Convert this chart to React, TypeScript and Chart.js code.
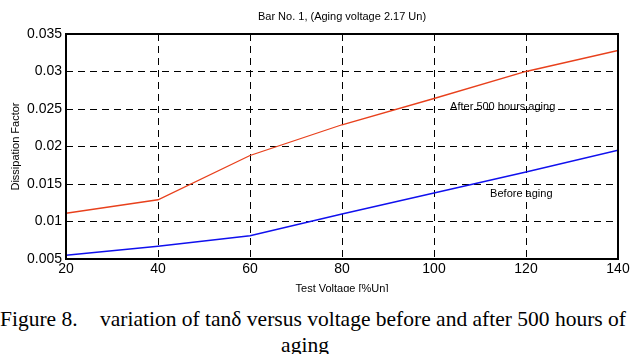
import React, { useEffect, useRef } from "react";
import { Chart, registerables } from "chart.js";

Chart.register(...registerables);

const voltages = [20, 40, 60, 80, 100, 120, 140];
const afterAging = [0.0111, 0.0129, 0.0188, 0.0229, 0.0264, 0.0300, 0.0328];
const beforeAging = [0.0055, 0.0067, 0.0081, 0.0110, 0.0138, 0.0166, 0.0195];
const yTicks = [0.005, 0.01, 0.015, 0.02, 0.025, 0.03, 0.035];
const titleText = "Bar No. 1, (Aging voltage 2.17 Un)";
const xTitle = "Test Voltage [%Un]";
const yTitle = "Dissipation Factor";
const annotations = [
  { text: "After 500 hours aging", x: 103.5, y: 0.0253 },
  { text: "Before aging", x: 112.2, y: 0.01367 },
];

const SANS = "'Liberation Sans', Arial, Helvetica, sans-serif";

const framePlugin = {
  id: "frame",
  afterDraw(chart: any) {
    const { ctx, chartArea: a, scales } = chart;
    ctx.save();
    ctx.strokeStyle = "#000";
    ctx.lineWidth = 2;
    ctx.setLineDash([]);
    ctx.strokeRect(a.left, a.top, a.right - a.left, a.bottom - a.top);
    // title
    ctx.fillStyle = "#000";
    ctx.font = `11px ${SANS}`;
    ctx.textAlign = "center";
    ctx.textBaseline = "middle";
    ctx.fillText(titleText, (a.left + a.right) / 2, 17);
    // y title
    ctx.save();
    ctx.translate(16, (a.top + a.bottom) / 2);
    ctx.rotate(-Math.PI / 2);
    ctx.fillText(yTitle, 0, 0);
    ctx.restore();
    // x title
    ctx.textBaseline = "alphabetic";
    ctx.fillText(xTitle, (a.left + a.right) / 2, 291.5);
    // annotations
    ctx.textAlign = "left";
    ctx.textBaseline = "middle";
    for (const an of annotations) {
      ctx.fillText(an.text, scales.x.getPixelForValue(an.x), scales.y.getPixelForValue(an.y));
    }
    ctx.restore();
  },
};

export default function App() {
  const ref = useRef<HTMLCanvasElement | null>(null);
  useEffect(() => {
    if (!ref.current) return;
    const chart = new Chart(ref.current, {
      type: "line",
      data: {
        datasets: [
          {
            label: "After 500 hours aging",
            data: voltages.map((v, i) => ({ x: v, y: afterAging[i] })),
            borderColor: "#e8401c",
            borderWidth: 1.3,
            pointRadius: 0,
            tension: 0,
          },
          {
            label: "Before aging",
            data: voltages.map((v, i) => ({ x: v, y: beforeAging[i] })),
            borderColor: "#1010ee",
            borderWidth: 1.3,
            pointRadius: 0,
            tension: 0,
          },
        ],
      },
      options: {
        animation: false,
        responsive: false,
        devicePixelRatio: 1,
        layout: { padding: { left: 0, right: 14, top: 34, bottom: 0 } },
        plugins: { legend: { display: false }, tooltip: { enabled: false }, title: { display: false } },
        scales: {
          x: {
            type: "linear",
            min: 20,
            max: 140,
            afterFit(s: any) { s.height = 292 - 259; },
            ticks: { stepSize: 20, color: "#000", font: { family: SANS, size: 14 }, padding: 2, maxRotation: 0 },
            grid: { color: "#000", lineWidth: 1, drawTicks: false },
            border: { display: false, dash: [7, 5] },
          },
          y: {
            type: "linear",
            min: 0.005,
            max: 0.035,
            afterFit(s: any) { s.width = 66; },
            afterBuildTicks(s: any) { s.ticks = yTicks.map((v) => ({ value: v })); },
            ticks: {
              color: "#000",
              font: { family: SANS, size: 14 },
              padding: 4,
              callback: (v: any) => String(+Number(v).toFixed(3)),
            },
            grid: { color: "#000", lineWidth: 1, drawTicks: false },
            border: { display: false, dash: [7, 5] },
          },
        },
      },
      plugins: [framePlugin],
    });
    return () => chart.destroy();
  }, []);

  const serif = "'Liberation Serif', 'Times New Roman', serif";
  const cap = { position: "absolute" as const, fontFamily: serif, fontSize: 21.5, lineHeight: "26px", whiteSpace: "nowrap" as const, color: "#000" };
  return (
    <div style={{ position: "fixed", left: 0, top: 0, width: 632, height: 354, background: "#fff", overflow: "hidden" }}>
      <canvas ref={ref} width={632} height={292} style={{ position: "absolute", left: 0, top: 0, width: 632, height: 292 }} />
      <div style={{ ...cap, left: 0, top: 305.5 }}>Figure 8.</div>
      <div style={{ ...cap, left: 100, top: 305.5 }}>variation of tanδ versus voltage before and after 500 hours of</div>
      <div style={{ ...cap, left: 0, width: 610, top: 331.5, textAlign: "center" }}>aging</div>
    </div>
  );
}
